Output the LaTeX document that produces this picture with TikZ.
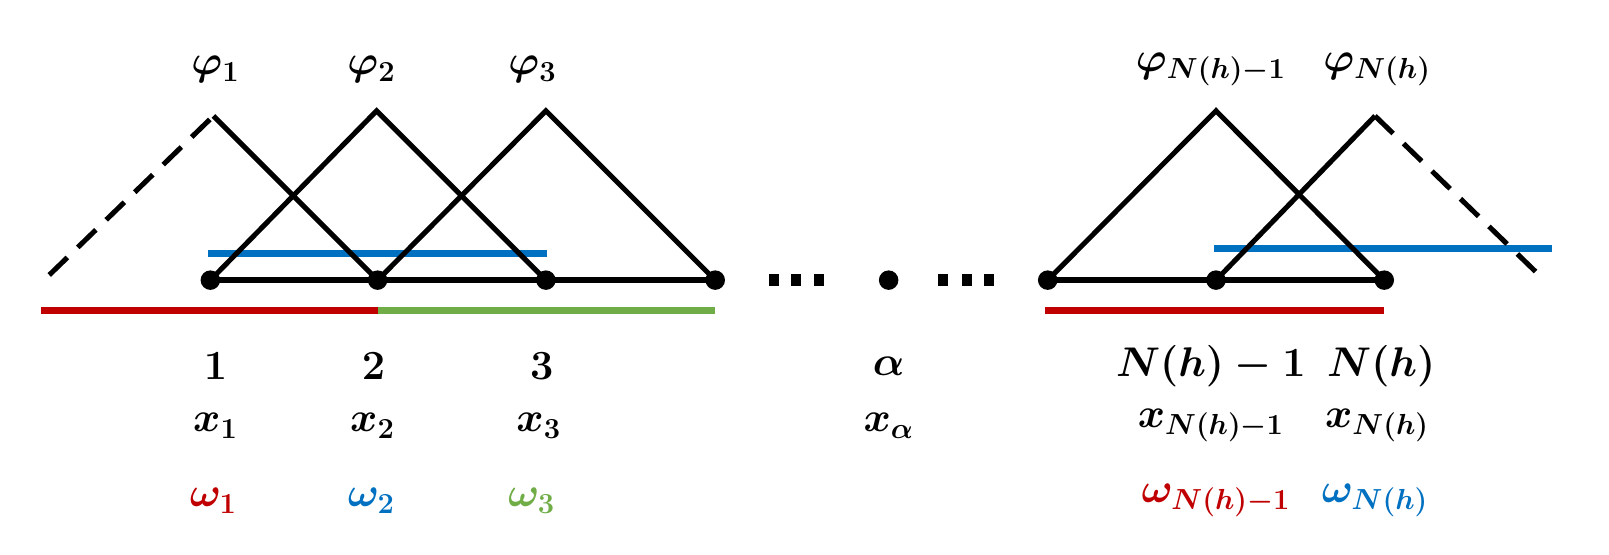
\documentclass[tikz,border=0pt]{standalone}
\usepackage{fix-cm}
\usepackage{amsmath}
\usetikzlibrary{positioning}
\definecolor{wred}{HTML}{C00000}
\definecolor{wblue}{HTML}{0070C0}
\definecolor{wgreen}{HTML}{70AD47}
\begin{document}
\begin{tikzpicture}[
    x=0.02cm, y=-0.02cm,
    every node/.style={font=\fontsize{23}{28}\selectfont\boldmath, inner sep=0pt},
    hat/.style={line width=2.8pt, line join=miter},
    base/.style={line width=3.3pt},
    tail/.style={line width=2.8pt, dash pattern=on 14pt off 8pt},
    seg/.style={line width=3.8pt},
    knot/.style={circle, fill, minimum size=0.38cm},
    sq/.style={rectangle, fill, minimum width=0.2cm, minimum height=0.24cm},
]
\useasboundingbox (0,0) rectangle (1568,540);
% mesh points
\node[knot] (n1) at (205,273) {};
\node[knot] (n2) at (368,273) {};
\node[knot] (n3) at (532,273) {};
\node[knot] (n4) at (697,273) {};
\node[knot] (na) at (866,273) {};
\node[knot] (m1) at (1021,273) {};
\node[knot] (m2) at (1185,273) {};
\node[knot] (m3) at (1349,273) {};
% dots between
\node[sq] (d1) at (754,273) {};
\node[sq] (d2) at (776,273) {};
\node[sq] (d3) at (798,273) {};
\node[sq] (e1) at (919,273) {};
\node[sq] (e2) at (942,273) {};
\node[sq] (e3) at (964,273) {};
% hat tops and loose ends
\coordinate (t1) at (208,113);
\coordinate (t2) at (367,108);
\coordinate (t3) at (532,108);
\coordinate (tm) at (1185,108);
\coordinate (tn) at (1340,113);
\coordinate (l0) at (48,268);
\coordinate (r0) at (1505,273);
% supports of the weights
\coordinate (b1) at (203,247);
\coordinate (b2) at (533,247);
\coordinate (b3) at (1183,242);
\coordinate (b4) at (1512,242);
\coordinate (c1) at (40,303);
\coordinate (c2) at (368,303);
\coordinate (c3) at (697,303);
\coordinate (c4) at (1018,303);
\coordinate (c5) at (1349,303);
\draw[seg, wblue] (b1) -- (b2);
\draw[seg, wblue] (b3) -- (b4);
\draw[seg, wred] (c1) -- (c2);
\draw[seg, wgreen] (c2) -- (c3);
\draw[seg, wred] (c4) -- (c5);
% baseline
\draw[base] (n1.center) -- (n2.center) -- (n3.center) -- (n4.center);
\draw[base] (m1.center) -- (m2.center) -- (m3.center);
% basis functions
\draw[tail] (l0) -- (t1);
\draw[hat] (t1) -- (n2.center);
\draw[hat] (n1.center) -- (t2) -- (n3.center);
\draw[hat] (n2.center) -- (t3) -- (n4.center);
\draw[hat] (m1.center) -- (tm) -- (m3.center);
\draw[hat] (m2.center) -- (tn);
\draw[tail] (tn) -- (r0);
% labels
\node (p1) at (210,68) {$\varphi_1$};
\node (p2) at (362,68) {$\varphi_2$};
\node (p3) at (519,68) {$\varphi_3$};
\node (pm) at (1180,68) {$\varphi_{N(h)-1}$};
\node (pn) at (1342,68) {$\varphi_{N(h)}$};
\node (i1) at (210,357) {$1$};
\node (i2) at (364,357) {$2$};
\node (i3) at (528,357) {$3$};
\node (ia) at (866,357) {$\alpha$};
\node (im) at (1180,357) {$N(h)-1$};
\node (in) at (1346,357) {$N(h)$};
\node (x1) at (210,415) {$x_1$};
\node (x2) at (363,415) {$x_2$};
\node (x3) at (525,415) {$x_3$};
\node (xa) at (866,415) {$x_\alpha$};
\node (xm) at (1180,415) {$x_{N(h)-1}$};
\node (xn) at (1342,415) {$x_{N(h)}$};
\node[wred] (w1) at (208,488) {$\omega_1$};
\node[wblue] (w2) at (362,488) {$\omega_2$};
\node[wgreen] (w3) at (518,488) {$\omega_3$};
\node[wred] (wm) at (1185,488) {$\omega_{N(h)-1}$};
\node[wblue] (wn) at (1340,488) {$\omega_{N(h)}$};
\end{tikzpicture}
\end{document}
